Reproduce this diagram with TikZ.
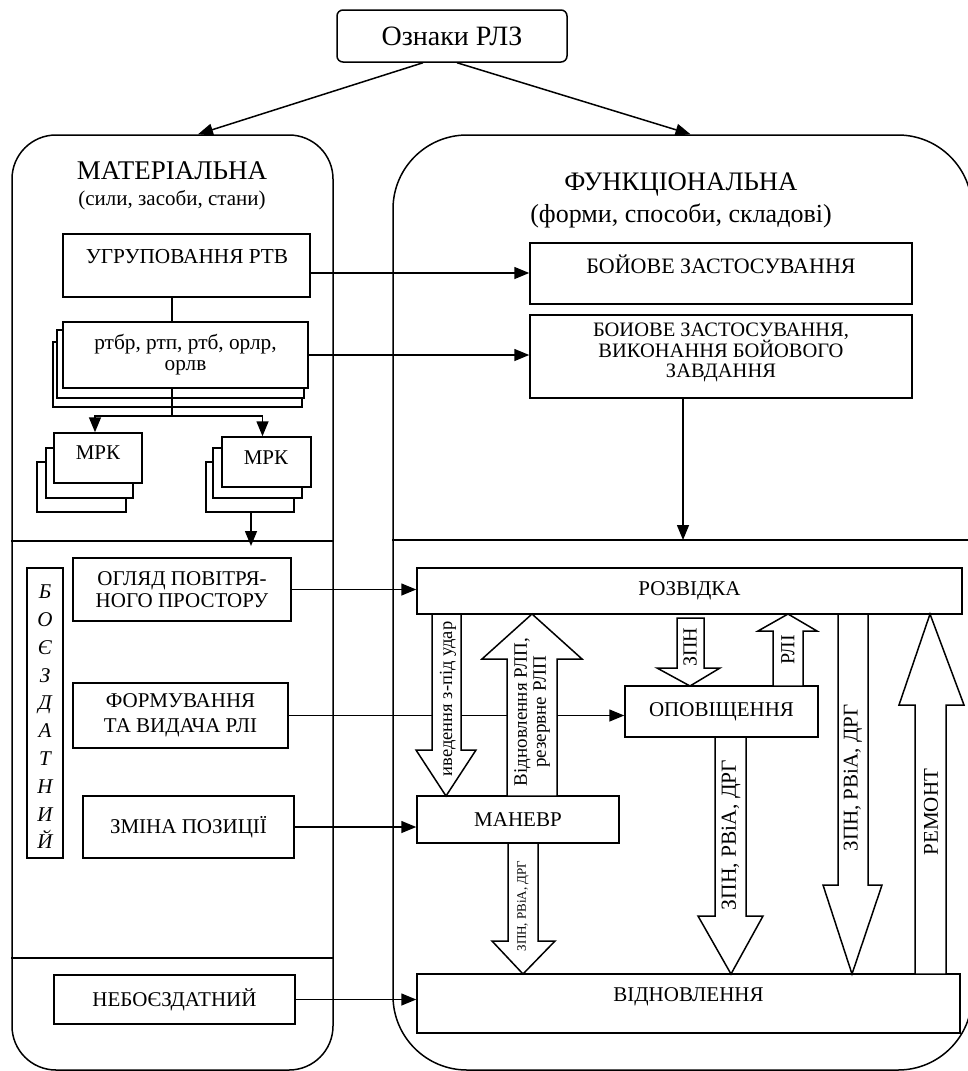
\documentclass[tikz,border=0pt]{standalone}
\usepackage{fontspec}
\setmainfont{Liberation Serif}
\usetikzlibrary{arrows.meta,calc}
\newcommand{\fsz}[2]{\fontsize{#1pt}{#2pt}\selectfont}
\begin{document}
\begin{tikzpicture}[x=1pt,y=-1pt,
 lw/.style={line width=1.5pt},
 box/.style={draw, lw, fill=white, inner sep=0pt, align=center, font=\fsz{21}{22}},
 conn/.style={lw, -{Triangle[length=15pt,width=12pt]}},
 barrow/.style={draw, lw, fill=white, line join=miter},
 vlab/.style={rotate=90, inner sep=0pt, align=center, font=\fsz{20}{20}},
 txt/.style={inner sep=0pt, align=center, font=\fsz{21}{22}},
 outer/.style={draw, lw, inner sep=0pt, minimum height=935pt}]
\useasboundingbox (0,0) rectangle (968,1071);
\clip (0,0) rectangle (968,1071);
% top
\node[box, rounded corners=6pt, minimum width=230pt, minimum height=52pt, font=\fsz{28}{30}] (ozn) at (452,36) {Ознаки РЛЗ};
% outer boxes
\node[outer, rounded corners=44pt, minimum width=321pt] (mat) at (172.5,602.5) {};
\node[outer, rounded corners=74pt, minimum width=579pt] (fun) at (682.5,602.5) {};
\draw[conn] ([xshift=-29pt]ozn.south) -- ([xshift=25.5pt]mat.north);
\draw[conn] ([xshift=5pt]ozn.south) -- ([xshift=8pt]fun.north);
% dividers
\draw[lw] (mat.west |- 0,541) -- (mat.east |- 0,541);
\draw[lw] (mat.west |- 0,958) -- (mat.east |- 0,958);
\draw[lw] (fun.west |- 0,540) -- (fun.east |- 0,540);
% headings
\node[txt, font=\fsz{27}{28}] (matT) at (172,171) {МАТЕРІАЛЬНА};
\node[txt, font=\fsz{21}{22}] (matS) at (172,200) {(сили, засоби, стани)};
\node[txt, font=\fsz{26.7}{28}] (funT) at (681,184) {ФУНКЦІОНАЛЬНА};
\node[txt, font=\fsz{26}{28}] (funS) at (681,216) {(форми, способи, складові)};
% left upper part
\node[box, minimum width=247pt, minimum height=63pt] (ugr) at (186.5,265.5) {};
\node[txt, font=\fsz{21.3}{22}] (ugrT) at (187,257) {УГРУПОВАННЯ РТВ};
\draw[lw, fill=white] (53,342) rectangle (302,407);
\draw[lw, fill=white] (57,330) rectangle (304,398);
\node[box, minimum width=245pt, minimum height=66pt, font=\fsz{21.3}{21}] (stack) at (185.5,355) {ртбр, ртп, ртб, орлр,\\орлв};
\coordinate (vx) at (172,0);
\coordinate (br) at (172,416);
\draw[lw] (ugr.south -| vx) -- (stack.north -| vx);
\draw[lw, fill=white] (37,462) rectangle (126,512);
\draw[lw, fill=white] (46,448) rectangle (133,498);
\node[box, minimum width=88pt, minimum height=50pt] (mpk1) at (98,458) {};
\node[txt] (mpk1T) at (98,453) {МРК};
\draw[lw, fill=white] (206,462) rectangle (294,512);
\draw[lw, fill=white] (213,448) rectangle (302,498);
\node[box, minimum width=89pt, minimum height=50pt] (mpk2) at (266.5,462) {};
\node[txt] (mpk2T) at (266,458) {МРК};
\draw[lw] (stack.south -| br) -- (br);
\draw[conn] (br) -| ([xshift=-3pt]mpk1.north);
\draw[conn] (br) -| ([xshift=-4pt]mpk2.north);
\coordinate (mk) at (251,512);
\coordinate (mkend) at (251,546);
\draw[conn] (mk) -- (mkend);
% right upper part
\node[box, minimum width=382pt, minimum height=61pt] (boj1) at (721,273.5) {};
\node[txt, font=\fsz{22}{20}] (boj1T) at (721,264) {БОЙОВЕ ЗАСТОСУВАННЯ};
\node[box, minimum width=382pt, minimum height=83pt] (boj2) at (721,356.5) {};
\node[txt, font=\fsz{20.5}{19.5}] (boj2T) at (721,352) {БОИОВЕ ЗАСТОСУВАННЯ,\\ВИКОНАННЯ БОЙОВОГО\\ЗАВДАННЯ};
\draw[conn] ([yshift=-7.5pt]ugr.east) -- ([yshift=-7.5pt]ugr.east -| boj1.west);
\draw[conn] (stack.east) -- (stack.east -| boj2.west);
\coordinate (dv) at (683,540);
\draw[conn] (boj2.south -| dv) -- (dv);
% left middle part
\node[box, minimum width=36pt, minimum height=290pt] (boe) at (45,713) {};
\node[txt, font=\itshape\fsz{21}{27.8}] (boeT) at (45,717) {Б\\О\\Є\\З\\Д\\А\\Т\\Н\\И\\Й};
\node[box, minimum width=218pt, minimum height=63pt, font=\fsz{21}{22}] (ogl) at (182,589.5) {ОГЛЯД ПОВІТРЯ-\\НОГО ПРОСТОРУ};
\node[box, minimum width=215pt, minimum height=65pt, font=\fsz{21}{25}] (form) at (180.5,715.5) {ФОРМУВАННЯ\\ТА ВИДАЧА РЛІ};
\node[box, minimum width=211pt, minimum height=62pt, font=\fsz{21}{22}] (zmina) at (188.5,827) {ЗМІНА ПОЗИЦІЇ};
\node[box, minimum width=241pt, minimum height=49pt, font=\fsz{21}{22}] (neb) at (174.5,999.5) {НЕБОЄЗДАТНИЙ};
% right lower part
\node[box, minimum width=545pt, minimum height=46pt, font=\fsz{21}{22}] (razv) at (689.5,591) {РОЗВІДКА};
\node[box, minimum width=193pt, minimum height=51pt, font=\fsz{21}{22}] (opov) at (721.5,711.5) {ОПОВІЩЕННЯ};
\node[box, minimum width=202pt, minimum height=47pt, font=\fsz{21}{22}] (man) at (518,819.5) {МАНЕВР};
\node[box, minimum width=543pt, minimum height=59pt] (vidn) at (688.5,1003.5) {};
\node[txt, font=\fsz{21}{22}] (vidnT) at (688.5,997) {ВІДНОВЛЕННЯ};
% connectors from left
\draw[conn] (ogl.east) -- (ogl.east -| razv.west);
\draw[lw] (form.east) -- (form.east -| 600,0);
\draw[conn] (form.east -| 600,0) -- (form.east -| opov.west);
\draw[conn] (zmina.east) -- (zmina.east -| man.west);
\draw[conn] (neb.east) -- (neb.east -| vidn.west);
% block arrows
\path[barrow] (432,614) -- (432,750) -- (416,750) -- (446,796) -- (476,750) -- (461,750) -- (461,614) -- cycle;
\path[barrow] (507,796) -- (507,659) -- (482,659) -- (532,614) -- (582,659) -- (557,659) -- (557,796) -- cycle;
\path[barrow] (677,618) -- (677,668) -- (657,668) -- (690,686) -- (720,668) -- (704,668) -- (704,618) -- cycle;
\path[barrow] (773,686) -- (773,631) -- (758,631) -- (788,614) -- (817,631) -- (803,631) -- (803,686) -- cycle;
\path[barrow] (715,737) -- (715,916) -- (698,916) -- (731,974) -- (763,916) -- (746,916) -- (746,737) -- cycle;
\path[barrow] (838,614) -- (838,885) -- (823,885) -- (852,974) -- (882,885) -- (868,885) -- (868,614) -- cycle;
\path[barrow] (915,974) -- (915,705) -- (899,705) -- (930,614) -- (964,705) -- (946,705) -- (946,974) -- cycle;
\path[barrow] (508,843) -- (508,941) -- (492,941) -- (523,974) -- (555,941) -- (538,941) -- (538,843) -- cycle;
% arrow labels
\node[vlab, font=\fsz{18.5}{19}] (l1) at (448,699) {иведення з-під удар};
\node[vlab, font=\fsz{19}{19}] (l2) at (532,712) {Відновлення РЛП,\\резервне РЛП};
\node[vlab, font=\fsz{20}{20}] (l3) at (690,647) {ЗПН};
\node[vlab, font=\fsz{20}{20}] (l4) at (788,650) {РЛІ};
\node[vlab, font=\fsz{21.5}{21}] (l5) at (731,835) {ЗПН, РВіА, ДРГ};
\node[vlab, font=\fsz{21}{21}] (l6) at (853,778) {ЗПН, РВіА, ДРГ};
\node[vlab, font=\fsz{21}{21}] (l7) at (931,812) {РЕМОНТ};
\node[vlab, font=\fsz{13}{13}] (l8) at (523,906) {ЗПН, РВіА, ДРГ};
\end{tikzpicture}
\end{document}
